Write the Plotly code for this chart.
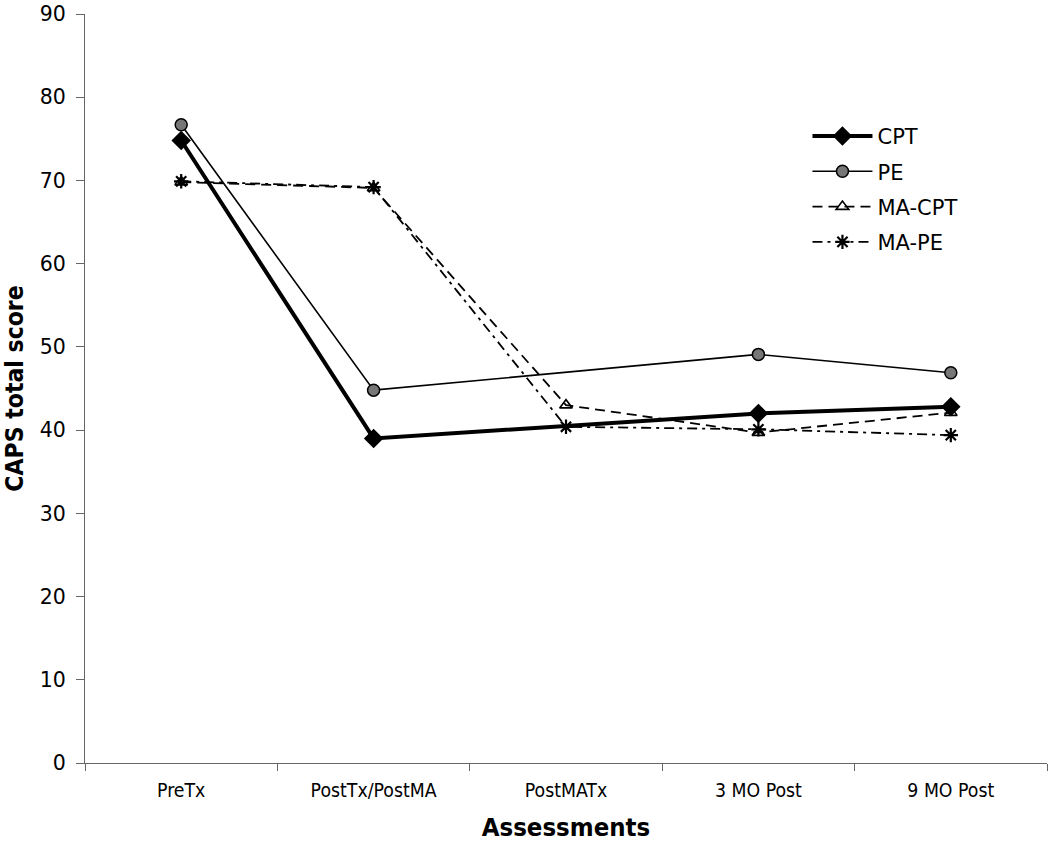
import plotly.graph_objects as go

categories = ["PreTx", "PostTx/PostMA", "PostMATx", "3 MO Post", "9 MO Post"]
cpt = [74.8, 39.0, None, 42.0, 42.8]
pe = [76.7, 44.8, None, 49.1, 46.9]
ma_cpt = [69.8, 69.1, 43.0, 39.7, 42.1]
ma_pe = [69.9, 69.2, 40.4, 40.1, 39.4]
y_ticks = [0, 10, 20, 30, 40, 50, 60, 70, 80, 90]

fig = go.Figure()
fig.add_trace(go.Scatter(
    x=categories, y=cpt, name="CPT", legendgroup="a", mode="lines+markers", connectgaps=True,
    line=dict(color="black", width=4),
    marker=dict(symbol="diamond", size=15, color="black")))
fig.add_trace(go.Scatter(
    x=categories, y=pe, name="PE", legendgroup="b", mode="lines+markers", connectgaps=True,
    line=dict(color="black", width=1.6),
    marker=dict(symbol="circle", size=12, color="#777777", line=dict(color="black", width=1.5))))
fig.add_trace(go.Scatter(
    x=categories, y=ma_cpt, name="MA-CPT", legendgroup="c", mode="lines+markers",
    line=dict(color="black", width=1.8, dash="10px,6px"),
    marker=dict(symbol="triangle-up-open", size=11, color="black", line=dict(width=1.6))))
fig.add_trace(go.Scatter(
    x=categories, y=ma_pe, name="MA-PE", legendgroup="d", mode="lines+markers",
    line=dict(color="black", width=1.8, dash="10px,5px,3px,5px"),
    marker=dict(symbol="asterisk-open", size=12, color="black", line=dict(width=2.2))))

fig.update_layout(
    width=1050, height=842,
    margin=dict(l=85, r=3, t=14, b=79),
    paper_bgcolor="white", plot_bgcolor="white",
    showlegend=True,
    legend=dict(x=0.751, y=0.864, xanchor="left", yanchor="top",
                font=dict(family="DejaVu Sans", size=21, color="black"),
                itemwidth=60, tracegroupgap=5, bgcolor="rgba(0,0,0,0)"),
    xaxis=dict(
        type="category", range=[-0.5, 4.5], automargin=False,
        tickson="boundaries", ticks="outside", ticklen=7, tickcolor="#666666",
        showline=True, linecolor="#666666", linewidth=1.2, showgrid=False,
        ticklabelstandoff=10,
        tickfont=dict(family="DejaVu Sans Condensed", size=19.3, color="black"),
        title=dict(text="<b>Assessments</b>", standoff=16,
                   font=dict(family="DejaVu Sans Condensed", size=25.5, color="black"))),
    yaxis=dict(
        range=[0, 90], tickvals=y_ticks, ticks="outside", ticklen=8, tickcolor="#666666",
        automargin=False, ticklabelstandoff=6, ticklabeloverflow="allow",
        showline=True, linecolor="#666666", linewidth=1.2, showgrid=False, zeroline=False,
        tickfont=dict(family="DejaVu Sans", size=20.5, color="black"),
        title=dict(text="<b>CAPS total score</b>", standoff=14,
                   font=dict(family="DejaVu Sans Condensed", size=24.5, color="black"))),
)

fig.write_html(
    "out.html",
    config={"displayModeBar": False},
    post_script="document.body.style.margin='0';document.documentElement.style.overflow='hidden';",
)
